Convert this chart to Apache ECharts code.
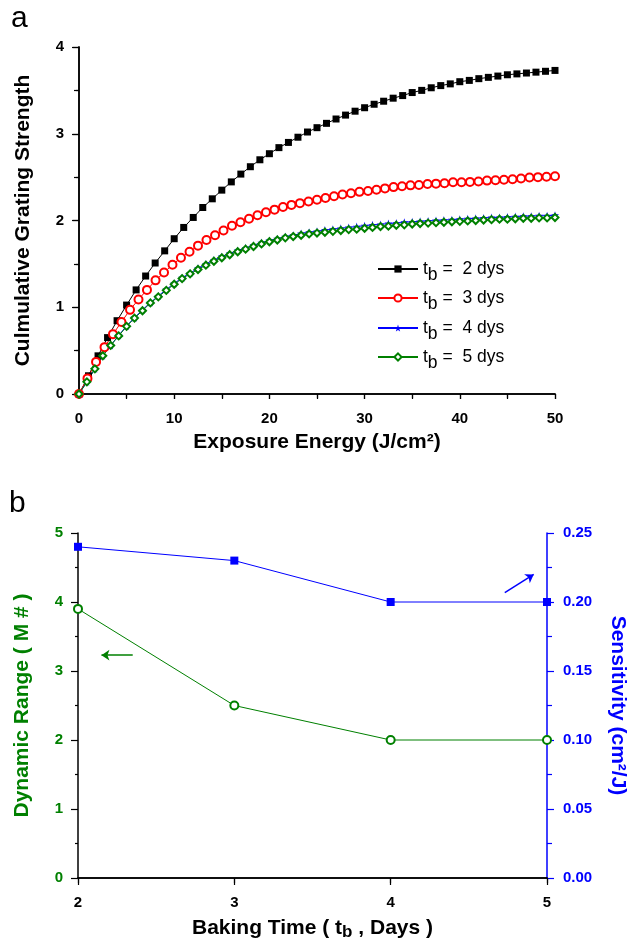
<!DOCTYPE html>
<html><head><meta charset="utf-8">
<script src="https://cdn.jsdelivr.net/npm/echarts@6/dist/echarts.min.js"></script>
<style>html,body{margin:0;padding:0;background:#fff}#c{width:636px;height:946px}</style>
</head><body><div id="c"></div>
<script>
// ---------- Panel a data ----------
const xTb2 = [0,1,2,3,4,5,6,7,8,9,10,11,12,13,14,15,16,17,18,19,20,21,22,23,24,25,26,27,28,29,30,31,32,33,34,35,36,37,38,39,40,41,42,43,44,45,46,47,48,49,50];
const yTb2 = [0,0.21,0.44,0.65,0.845,1.025,1.20,1.36,1.51,1.65,1.79,1.92,2.035,2.15,2.25,2.35,2.445,2.535,2.62,2.70,2.77,2.84,2.90,2.96,3.02,3.07,3.12,3.17,3.215,3.26,3.30,3.34,3.375,3.41,3.44,3.475,3.50,3.53,3.555,3.575,3.60,3.615,3.635,3.65,3.665,3.68,3.69,3.70,3.71,3.72,3.73];
const xTb3 = [0,0.89,1.79,2.68,3.57,4.46,5.36,6.25,7.14,8.04,8.93,9.82,10.71,11.61,12.5,13.39,14.29,15.18,16.07,16.96,17.86,18.75,19.64,20.54,21.43,22.32,23.21,24.11,25,25.89,26.79,27.68,28.57,29.46,30.36,31.25,32.14,33.04,33.93,34.82,35.71,36.61,37.5,38.39,39.29,40.18,41.07,41.96,42.86,43.75,44.64,45.54,46.43,47.32,48.21,49.11,50];
const yTb3 = [0,0.18,0.37,0.54,0.69,0.83,0.97,1.09,1.20,1.31,1.40,1.49,1.57,1.64,1.71,1.775,1.83,1.885,1.94,1.98,2.02,2.06,2.095,2.125,2.155,2.18,2.20,2.22,2.24,2.26,2.28,2.30,2.315,2.33,2.34,2.355,2.37,2.385,2.395,2.405,2.41,2.42,2.425,2.43,2.44,2.44,2.445,2.45,2.46,2.465,2.47,2.475,2.485,2.495,2.50,2.505,2.51];
const xTb45 = [0,0.83,1.67,2.5,3.33,4.17,5,5.83,6.67,7.5,8.33,9.17,10,10.83,11.67,12.5,13.33,14.17,15,15.83,16.67,17.5,18.33,19.17,20,20.83,21.67,22.5,23.33,24.17,25,25.83,26.67,27.5,28.33,29.17,30,30.83,31.67,32.5,33.33,34.17,35,35.83,36.67,37.5,38.33,39.17,40,40.83,41.67,42.5,43.33,44.17,45,45.83,46.67,47.5,48.33,49.17,50];
const yTb4 = [0,0.14,0.29,0.44,0.56,0.675,0.785,0.88,0.97,1.055,1.13,1.205,1.275,1.34,1.395,1.45,1.50,1.545,1.585,1.62,1.655,1.685,1.715,1.745,1.77,1.79,1.815,1.83,1.85,1.865,1.875,1.89,1.90,1.91,1.92,1.93,1.94,1.95,1.955,1.965,1.97,1.98,1.985,1.99,1.995,2.00,2.005,2.01,2.015,2.02,2.025,2.03,2.035,2.035,2.04,2.045,2.05,2.05,2.055,2.055,2.06];
const yTb5 = [0,0.14,0.29,0.44,0.56,0.67,0.78,0.875,0.96,1.05,1.12,1.195,1.265,1.33,1.385,1.435,1.485,1.53,1.57,1.605,1.64,1.67,1.70,1.73,1.755,1.775,1.80,1.815,1.83,1.845,1.855,1.865,1.875,1.885,1.895,1.90,1.91,1.92,1.93,1.935,1.945,1.95,1.96,1.965,1.97,1.975,1.98,1.985,1.99,1.995,2.00,2.005,2.01,2.015,2.015,2.02,2.025,2.025,2.03,2.03,2.035];
const legendDays = ['2','3','4','5'];

// ---------- Panel b data ----------
const bakingDays = [2,3,4,5];
const dynamicRange = [3.9,2.5,2.0,2.0];
const sensitivity = [0.24,0.23,0.20,0.20];

const FONT = 'Liberation Sans, Arial, sans-serif';
const GREEN = '#008000';
const BLUE = '#0000ff';
const RED = '#ff0000';
const pairs = (xs, ys) => xs.map((x, i) => [x, ys[i]]);
const starPath = 'path://M50,0 L61,35 L98,35 L68,57 L79,91 L50,70 L21,91 L32,57 L2,35 L39,35 Z';

const chart = echarts.init(document.getElementById('c'), null, {renderer: 'canvas'});
const axisLineBlack = {show: true, lineStyle: {color: '#000', width: 1.5}};
const tickLabel = {fontFamily: FONT, fontWeight: 'bold', fontSize: 15, color: '#000'};
const titleStyle = {fontFamily: FONT, fontWeight: 'bold', fontSize: 21, color: '#000'};

const seriesNames = ['tb2', 'tb3', 'tb4', 'tb5'];
const legendRowTops = [255, 284, 314, 343];

const option = {
  animation: false,
  backgroundColor: '#fff',
  graphic: [
    {type: 'text', left: 11, top: 4, style: {text: 'a', font: '30px ' + FONT, fill: '#000'}},
    {type: 'text', left: 9, top: 489, style: {text: 'b', font: '30px ' + FONT, fill: '#000'}}
  ],
  grid: [
    {left: 79, top: 47, width: 476, height: 347, containLabel: false},
    {left: 78, top: 533, width: 472, height: 345, containLabel: false}
  ],
  legend: seriesNames.map((nm, i) => ({
    data: [nm], left: 372, top: legendRowTops[i], orient: 'vertical',
    itemWidth: 40, itemHeight: 9, selectedMode: false,
    formatter: () => '{n|t}{s|b}{n| =  ' + legendDays[i] + ' dys}',
    textStyle: {
      fontFamily: FONT, fontSize: 17, color: '#000',
      rich: {
        n: {fontFamily: FONT, fontSize: 17.5, lineHeight: 30, verticalAlign: 'middle', color: '#000'},
        s: {fontFamily: FONT, fontSize: 17.5, lineHeight: 18, verticalAlign: 'bottom', color: '#000'}
      }
    }
  })),
  xAxis: [
    {gridIndex: 0, type: 'value', min: 0, max: 50, interval: 10, position: 'bottom',
     name: 'Exposure Energy (J/cm²)', nameLocation: 'middle', nameGap: 38, nameTextStyle: titleStyle,
     axisLine: axisLineBlack, axisTick: {show: true, inside: false, length: 5, lineStyle: {color: '#000', width: 1.2}},
     minorTick: {show: true, splitNumber: 2, length: 4, lineStyle: {color: '#000', width: 1.2}},
     axisLabel: Object.assign({margin: 17}, tickLabel), splitLine: {show: false}},
    {gridIndex: 0, type: 'value', min: 0, max: 50, interval: 10, position: 'top',
     axisLine: axisLineBlack, axisTick: {show: true, inside: true, length: 5, lineStyle: {color: '#000', width: 1.2}},
     minorTick: {show: true, splitNumber: 2, length: 5, lineStyle: {color: '#000', width: 1.2}},
     axisLabel: {show: false}, splitLine: {show: false}},
    {gridIndex: 1, type: 'value', min: 2, max: 5, interval: 1, position: 'bottom',
     name: '{n|Baking Time ( t}{s|b}{n| , Days )}', nameLocation: 'middle', nameGap: 37,
     nameTextStyle: Object.assign({}, titleStyle, {rich: {
       n: {fontFamily: FONT, fontWeight: 'bold', fontSize: 21, lineHeight: 26, verticalAlign: 'middle', color: '#000'},
       s: {fontFamily: FONT, fontWeight: 'bold', fontSize: 17, lineHeight: 15, verticalAlign: 'bottom', color: '#000'}}}),
     axisLine: axisLineBlack, axisTick: {show: true, inside: false, length: 5, lineStyle: {color: '#000', width: 1.2}},
     axisLabel: Object.assign({margin: 17}, tickLabel), splitLine: {show: false}},
    {gridIndex: 1, type: 'value', min: 2, max: 5, interval: 1, position: 'top',
     axisLine: axisLineBlack, axisTick: {show: true, inside: true, length: 7, lineStyle: {color: '#000', width: 1.2}},
     axisLabel: {show: false}, splitLine: {show: false}}
  ],
  yAxis: [
    {gridIndex: 0, type: 'value', min: 0, max: 4, interval: 1, position: 'left',
     name: 'Culmulative Grating Strength', nameLocation: 'middle', nameGap: 45, nameTextStyle: titleStyle,
     axisLine: axisLineBlack, axisTick: {show: true, inside: false, length: 7, lineStyle: {color: '#000', width: 1.2}},
     minorTick: {show: true, splitNumber: 2, length: 3, lineStyle: {color: '#000', width: 1.2}},
     axisLabel: Object.assign({margin: 15}, tickLabel), splitLine: {show: false}},
    {gridIndex: 0, type: 'value', min: 0, max: 4, interval: 1, position: 'right',
     axisLine: axisLineBlack, axisTick: {show: true, inside: true, length: 6, lineStyle: {color: '#000', width: 1.2}},
     minorTick: {show: true, splitNumber: 2, length: 5, lineStyle: {color: '#000', width: 1.2}},
     axisLabel: {show: false}, splitLine: {show: false}},
    {gridIndex: 1, type: 'value', min: 0, max: 5, interval: 1, position: 'left',
     name: 'Dynamic Range ( M # )', nameLocation: 'middle', nameGap: 45,
     nameTextStyle: Object.assign({}, titleStyle, {color: GREEN}),
     axisLine: axisLineBlack, axisTick: {show: true, inside: false, length: 7, lineStyle: {color: '#000', width: 1.2}},
     minorTick: {show: true, splitNumber: 2, length: 3, lineStyle: {color: '#000', width: 1.2}},
     axisLabel: Object.assign({margin: 15}, tickLabel, {color: GREEN}), splitLine: {show: false}},
    {gridIndex: 1, type: 'value', min: 0, max: 0.25, interval: 0.05, position: 'right',
     name: 'Sensitivity (cm²/J)', nameLocation: 'middle', nameGap: 60, nameRotate: -90,
     nameTextStyle: Object.assign({}, titleStyle, {color: BLUE}),
     axisLine: {show: true, lineStyle: {color: BLUE, width: 1.5}},
     axisTick: {show: true, inside: false, length: 7, lineStyle: {color: BLUE, width: 1.2}},
     minorTick: {show: true, splitNumber: 2, length: 5, lineStyle: {color: BLUE, width: 1.2}},
     axisLabel: Object.assign({margin: 16}, tickLabel, {color: BLUE, formatter: v => v.toFixed(2)}),
     splitLine: {show: false}}
  ],
  series: [
    {name: 'tb2', type: 'line', xAxisIndex: 0, yAxisIndex: 0, data: pairs(xTb2, yTb2),
     symbol: 'rect', symbolSize: 7, color: '#000', lineStyle: {color: '#000', width: 1},
     itemStyle: {color: '#000'}},
    {name: 'tb3', type: 'line', xAxisIndex: 0, yAxisIndex: 0, data: pairs(xTb3, yTb3),
     symbol: 'emptyCircle', symbolSize: 8, color: RED, lineStyle: {color: RED, width: 1},
     itemStyle: {color: RED, borderWidth: 1}},
    {name: 'tb4', type: 'line', xAxisIndex: 0, yAxisIndex: 0, data: pairs(xTb45, yTb4),
     symbol: starPath, symbolSize: 8, color: BLUE, lineStyle: {color: BLUE, width: 1},
     itemStyle: {color: BLUE}},
    {name: 'tb5', type: 'line', xAxisIndex: 0, yAxisIndex: 0, data: pairs(xTb45, yTb5),
     symbol: 'emptyDiamond', symbolSize: 7, color: GREEN, lineStyle: {color: GREEN, width: 1},
     itemStyle: {color: GREEN, borderWidth: 1}},
    {name: 'dr', type: 'line', xAxisIndex: 2, yAxisIndex: 2, data: pairs(bakingDays, dynamicRange),
     symbol: 'emptyCircle', symbolSize: 8, color: GREEN, lineStyle: {color: GREEN, width: 1},
     itemStyle: {color: GREEN, borderWidth: 1},
     markLine: {silent: true, symbol: ['none', 'arrow'], symbolSize: 8, animation: false,
       label: {show: false}, lineStyle: {color: GREEN, width: 1.5, type: 'solid'},
       data: [[{coord: [2.35, 3.23]}, {coord: [2.15, 3.23]}]]}},
    {name: 'sens', type: 'line', xAxisIndex: 2, yAxisIndex: 3, data: pairs(bakingDays, sensitivity),
     symbol: 'rect', symbolSize: 8, color: BLUE, lineStyle: {color: BLUE, width: 1},
     itemStyle: {color: BLUE},
     markLine: {silent: true, symbol: ['none', 'arrow'], symbolSize: 8, animation: false,
       label: {show: false}, lineStyle: {color: BLUE, width: 1.5, type: 'solid'},
       data: [[{coord: [4.73, 0.2068]}, {coord: [4.915, 0.220]}]]}}
  ]
};
chart.setOption(option);
</script>
</body></html>
